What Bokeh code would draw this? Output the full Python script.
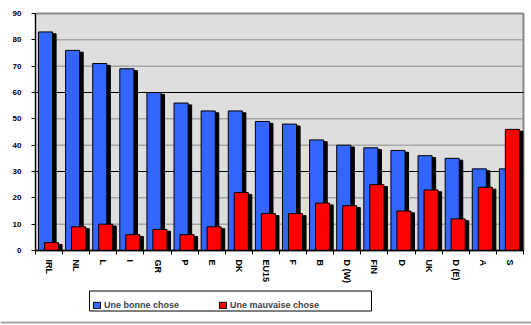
import numpy as np
from bokeh.plotting import figure
from bokeh.models import FixedTicker, Legend, LegendItem, ColumnDataSource, Range1d, Span, BoxAnnotation
from bokeh.embed import file_html
from bokeh.resources import INLINE

categories = ["IRL", "NL", "L", "I", "GR", "P", "E", "DK", "EU15", "F", "B",
              "D (W)", "FIN", "D", "UK", "D (E)", "A", "S"]
bonne = [83, 76, 71, 69, 60, 56, 53, 53, 49, 48, 42, 40, 39, 38, 36, 35, 31, 31]
mauvaise = [3, 9, 10, 6, 8, 6, 9, 22, 14, 14, 18, 17, 25, 15, 23, 12, 24, 46]
y_ticks = [0, 10, 20, 30, 40, 50, 60, 70, 80, 90]
dark_grid = [30, 60]
series_names = ["Une bonne chose", "Une mauvaise chose"]
series_colors = ["#3366ff", "#ff0000"]

n = len(categories)
idx = np.arange(n)
ymax = y_ticks[-1]
src = ColumnDataSource(dict(
    xb=idx + 0.37, xr=idx + 0.59,
    xbs=idx + 0.37 + 0.13, xrs=idx + 0.59 + 0.13,
    b=bonne, r=mauvaise,
    bs=np.maximum(np.array(bonne) - 0.7, 0), rs=np.maximum(np.array(mauvaise) - 0.7, 0),
))

# frame covers the whole page; the chart area is 0..n x 0..90
PXX = 488 / n
PXY = 237 / ymax
def dx(px):
    return (px - 35) / PXX
def dy(py):
    return (250 - py) / PXY

p = figure(width=531, height=325, output_backend="svg", toolbar_location=None,
           x_range=Range1d(dx(0), dx(531)), y_range=Range1d(dy(325), dy(0)),
           min_border=0)
p.background_fill_color = "white"
p.border_fill_color = "white"
p.outline_line_color = None
p.xgrid.visible = False
p.ygrid.visible = False

# plot area background + border
p.quad(left=[0], right=[n], bottom=[0], top=[ymax], fill_color="#dedede",
       line_color="#8a8a8a", line_width=2)
# grid lines
gl = [t for t in y_ticks[1:-1] if t not in dark_grid]
p.segment(x0=[0] * len(gl), x1=[n] * len(gl), y0=gl, y1=gl, line_color="#8a8a8a", line_width=1)
p.segment(x0=[0] * len(dark_grid), x1=[n] * len(dark_grid), y0=dark_grid, y1=dark_grid,
          line_color="black", line_width=1)

W = 0.52
p.vbar(x="xbs", top="bs", width=W, bottom=0, source=src, fill_color="black", line_color="black")
rb = p.vbar(x="xb", top="b", width=W, bottom=0, source=src, fill_color=series_colors[0], line_color="black", line_width=1)
p.vbar(x="xrs", top="rs", width=W, bottom=0, source=src, fill_color="black", line_color="black")
rr = p.vbar(x="xr", top="r", width=W, bottom=0, source=src, fill_color=series_colors[1], line_color="black", line_width=1)

# y axis
ya = p.yaxis[0]
ya.fixed_location = 0
ya.bounds = (0, ymax)
ya.ticker = FixedTicker(ticks=y_ticks)
ya.major_tick_out = 4
ya.major_tick_in = 0
ya.minor_tick_out = 0
ya.minor_tick_in = 0
ya.axis_line_color = "black"
ya.major_tick_line_color = "black"
ya.major_label_text_font = "Liberation Sans"
ya.major_label_text_font_style = "bold"
ya.major_label_text_font_size = "8px"
ya.major_label_text_color = "black"
ya.major_label_standoff = 10

# x axis
xa = p.xaxis[0]
xa.fixed_location = 0
xa.bounds = (0, n)
xa.ticker = FixedTicker(ticks=list(idx + 0.5), minor_ticks=list(range(n + 1)))
xa.major_label_overrides = {float(i + 0.5): c for i, c in enumerate(categories)}
xa.major_label_orientation = "vertical"
xa.major_tick_out = 0
xa.major_tick_in = 0
xa.minor_tick_out = 4
xa.minor_tick_in = 0
xa.minor_tick_line_color = "black"
xa.axis_line_color = "black"
xa.axis_line_width = 1.5
xa.major_label_text_font = "Liberation Sans"
xa.major_label_text_font_style = "bold"
xa.major_label_text_font_size = "9px"
xa.major_label_text_color = "black"
xa.major_label_standoff = 5

p.add_layout(Span(location=dy(322), dimension="width", line_color="#a8a8a8", line_width=2))

# legend frame
p.add_layout(BoxAnnotation(left=dx(89), right=dx(371), top=dy(290.5), bottom=dy(310.5),
                           fill_color="white", fill_alpha=1, line_color="black",
                           line_width=1, line_alpha=1))

legend = Legend(items=[LegendItem(label=s, renderers=[r]) for s, r in zip(series_names, [rb, rr])],
                orientation="horizontal", location=(92, 15))
legend.glyph_width = 9
legend.glyph_height = 8
legend.label_standoff = 3
legend.label_width = 108
legend.spacing = 6
legend.padding = 5
legend.margin = 0
legend.border_line_color = None
legend.background_fill_alpha = 0
legend.label_text_font = "Liberation Sans"
legend.label_text_font_style = "bold"
legend.label_text_font_size = "9px"
legend.label_height = 9
p.add_layout(legend)

open("out.html", "w").write(file_html(p, INLINE))
